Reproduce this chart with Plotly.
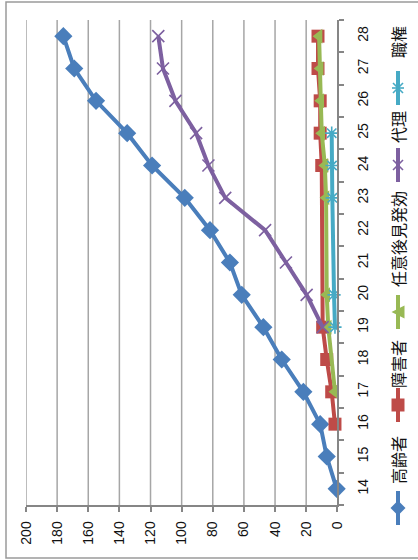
import plotly.graph_objects as go

categories = [14, 15, 16, 17, 18, 19, 20, 21, 22, 23, 24, 25, 26, 27, 28]
elderly = [0.4, 6.8, 11, 21.8, 35.7, 47.5, 61.4, 69, 81.8, 98, 119, 135, 155, 169, 176]
disabled = [None, None, 1.5, 3.6, 6.8, 9.4, None, None, None, None, 10, 11, 11, 12.4, 12.4]
guardian = [None, None, None, 1.5, None, 5.8, 6.8, None, None, 7.2, 8, 10, 10.6, 11, 11.7]
proxy = [None, None, None, None, None, 9.4, 19.7, 33, 46.4, 72, 82.8, 90.7, 104, 112, 115]
exofficio = [None, None, None, None, None, 1.5, 2.1, None, None, 3.2, 3.4, 3.6, None, None, None]
value_ticks = [0, 20, 40, 60, 80, 100, 120, 140, 160, 180, 200]
series_names = ["高齢者", "障害者", "任意後見発効", "代理", "職権"]

W, H = 418, 560
colors = ["#4A7EBB", "#BE4B48", "#98B954", "#7D60A0", "#46AAC5"]
symbols = ["diamond", "square", "triangle-left", "x-thin-open", "asterisk-open"]
msizes = [14, 13, 13, 12, 11]
series = [elderly, disabled, guardian, proxy, exofficio]

fig = go.Figure()
for name, vals, c, s, ms in zip(series_names, series, colors, symbols, msizes):
    open_sym = s.endswith("open")
    fig.add_trace(go.Scatter(
        x=vals, y=categories, name=name, mode="lines+markers", connectgaps=True,
        line=dict(color=c, width=4),
        marker=dict(symbol=s, size=ms, color=c,
                    line=dict(color=c, width=1.6 if open_sym else 0)),
        showlegend=False, cliponaxis=False,
    ))


def px(x):
    return x / W


def py(y):
    return 1 - y / H


def path(points):
    return "M" + " L".join(f"{px(x):.5f},{py(y):.5f}" for x, y in points) + " Z"


shapes = [dict(type="rect", xref="paper", yref="paper", x0=px(6), x1=1.2,
               y0=py(558), y1=py(2), line=dict(color="#9A9A9A", width=1.5))]
# vertical value gridlines, placed through the x axis scale
for v in value_ticks[1:]:
    shapes.append(dict(type="line", xref="x", yref="y domain", x0=v, x1=v, y0=0, y1=1,
                       layer="below", line=dict(color="#A6A6A6", width=1.5)))

# manual rotated legend (pixel layout)
leg_x = 398
leg_items = [(508, 460), (405, 364), (312, 239), (165, 127), (88, 42)]
for (my, ty), name, c, s in zip(leg_items, series_names, colors, symbols):
    shapes.append(dict(type="line", xref="paper", yref="paper", x0=px(leg_x), x1=px(leg_x),
                       y0=py(my + 17), y1=py(my - 17), line=dict(color=c, width=4)))
    r = 6.5
    if s == "diamond":
        shapes.append(dict(type="path", xref="paper", yref="paper", fillcolor=c,
                           line=dict(width=0),
                           path=path([(leg_x, my - r - 1), (leg_x + r + 1, my),
                                      (leg_x, my + r + 1), (leg_x - r - 1, my)])))
    elif s == "square":
        shapes.append(dict(type="rect", xref="paper", yref="paper", fillcolor=c,
                           line=dict(width=0), x0=px(leg_x - r), x1=px(leg_x + r),
                           y0=py(my + r), y1=py(my - r)))
    elif s == "triangle-left":
        shapes.append(dict(type="path", xref="paper", yref="paper", fillcolor=c,
                           line=dict(width=0),
                           path=path([(leg_x - r, my), (leg_x + r, my - r),
                                      (leg_x + r, my + r)])))
    elif s == "x-thin-open":
        for a, b in [((-5, -5), (5, 5)), ((-5, 5), (5, -5))]:
            shapes.append(dict(type="line", xref="paper", yref="paper",
                               x0=px(leg_x + a[0]), y0=py(my + a[1]),
                               x1=px(leg_x + b[0]), y1=py(my + b[1]),
                               line=dict(color=c, width=1.6)))
    else:
        for a, b in [((-5, -5), (5, 5)), ((-5, 5), (5, -5)), ((-6, 0), (6, 0))]:
            shapes.append(dict(type="line", xref="paper", yref="paper",
                               x0=px(leg_x + a[0]), y0=py(my + a[1]),
                               x1=px(leg_x + b[0]), y1=py(my + b[1]),
                               line=dict(color=c, width=1.6)))
    fig.add_annotation(x=px(leg_x), y=py(ty), xref="paper", yref="paper",
                       xanchor="center", yanchor="middle",
                       text=name, textangle=-90, showarrow=False,
                       font=dict(family="Noto Sans CJK JP", size=16, color="#111111"))

fig.update_layout(
    template="none",
    width=W, height=H, margin=dict(l=0, r=0, t=0, b=0, autoexpand=False),
    paper_bgcolor="white", plot_bgcolor="white",
    xaxis=dict(domain=[px(26), px(337.3)], range=[200, 0], tickvals=value_ticks,
               tickangle=-90, showgrid=False,
               zeroline=False, showline=True, linecolor="#868686", linewidth=1.5,
               ticks="outside", ticklen=5, tickcolor="#868686", tickwidth=1.5,
               automargin=False, ticklabelstandoff=4,
               tickfont=dict(family="Liberation Sans", size=14, color="#111111")),
    yaxis=dict(domain=[py(505), py(20)], side="right",
               range=[13.5, 28.5], tickvals=categories, showgrid=False, automargin=False,
               zeroline=False, showline=True, linecolor="#868686", linewidth=1.5,
               ticks="", tickangle=-90, ticklabelstandoff=12,
               minor=dict(tick0=13.5, dtick=1, ticks="outside", ticklen=5,
                          tickcolor="#868686", tickwidth=1.5, showgrid=False),
               tickfont=dict(family="Liberation Sans", size=14, color="#111111")),
    shapes=shapes,
)
fig.write_html("out.html", config={"displayModeBar": False},
               post_script="document.body.style.margin='0';")
